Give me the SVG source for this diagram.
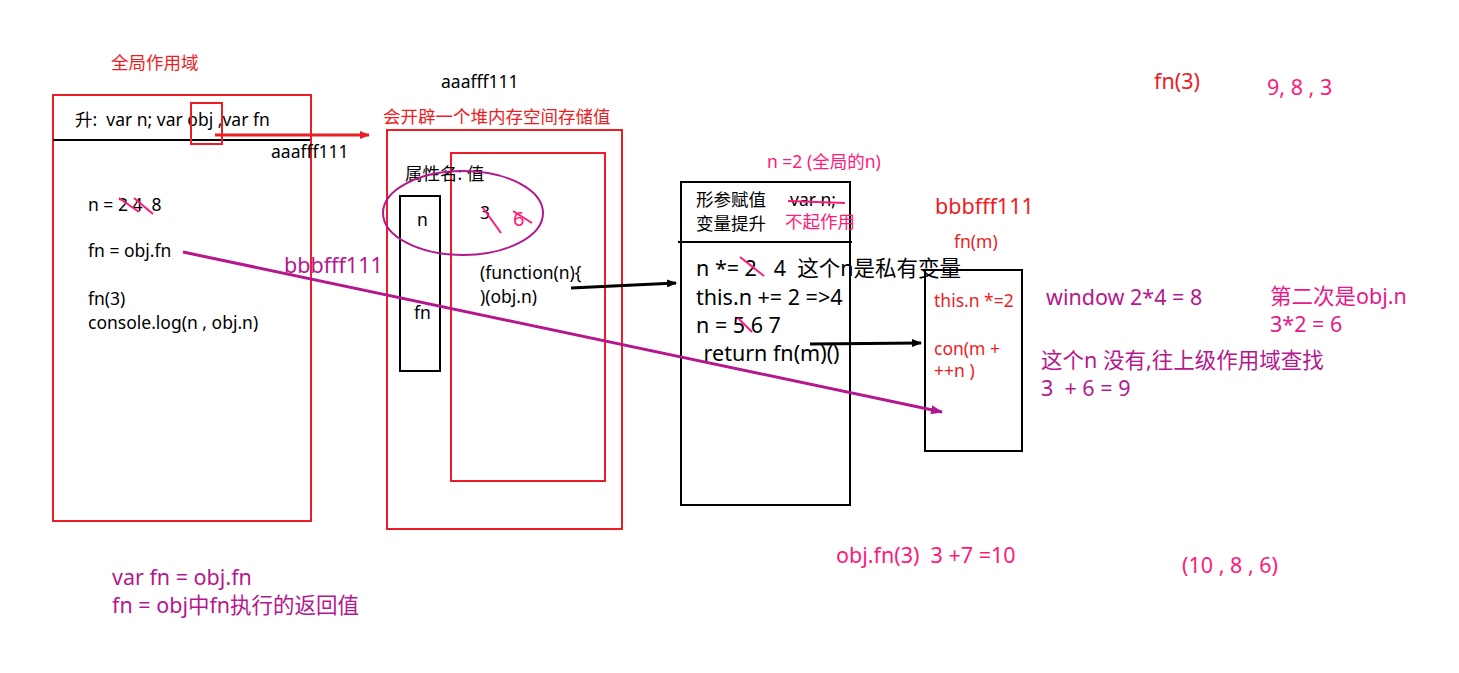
<svg xmlns="http://www.w3.org/2000/svg" width="1459" height="673" viewBox="0 0 1459 673" xml:space="preserve">
<defs>
<marker id="ar" markerWidth="10" markerHeight="8" refX="9" refY="4" orient="auto" markerUnits="userSpaceOnUse"><path d="M0,0 L10,4 L0,8 z" fill="#ee1c24"/></marker>
<marker id="ab" markerWidth="10" markerHeight="8" refX="9" refY="4" orient="auto" markerUnits="userSpaceOnUse"><path d="M0,0 L10,4 L0,8 z" fill="#000"/></marker>
<marker id="ap" markerWidth="12" markerHeight="9" refX="11" refY="4.5" orient="auto" markerUnits="userSpaceOnUse"><path d="M0,0 L12,4.5 L0,9 z" fill="#b5178e"/></marker>
<style>
text{font-family:"Noto Sans","Noto Sans CJK SC",sans-serif;font-size:17.5px;fill:#000;white-space:pre}
.l{font-size:21.5px}
.red{fill:#ee1c24}
.pk{fill:#ff1a7a}
.mg{fill:#e8198b}
.pu{fill:#b5178e}
.rbox{fill:none;stroke:#ee1c24;stroke-width:2}
.bbox{fill:none;stroke:#000;stroke-width:2}
.strike{stroke:#ff1a7a;stroke-width:2;fill:none}
</style>
</defs>
<rect width="1459" height="673" fill="#fff"/>

<text class="red" x="111" y="69">全局作用域</text>

<g id="global">
<rect class="rbox" x="53" y="95" width="258" height="426"/>
<line x1="53" y1="140" x2="310" y2="140" stroke="#000" stroke-width="2"/>
<text x="75" y="126">升:  var n; var obj ,var fn</text>
<rect class="rbox" x="191" y="103" width="31" height="41"/>
<text x="271" y="158">aaafff111</text>
<text x="88" y="211">n = 2 4  8</text>
<line class="strike" x1="119" y1="198" x2="139" y2="212"/>
<line class="strike" x1="134" y1="198" x2="153" y2="214"/>
<text x="88" y="257">fn = obj.fn</text>
<text x="88" y="305">fn(3)</text>
<text x="88" y="329">console.log(n , obj.n)</text>
</g>

<g id="heap">
<text x="441" y="88">aaafff111</text>
<text class="red" x="383" y="123">会开辟一个堆内存空间存储值</text>
<rect class="rbox" x="387" y="130" width="235" height="399"/>
<rect class="rbox" x="451" y="153" width="154" height="328"/>
<rect class="bbox" x="400" y="196" width="40" height="175"/>
<text x="405" y="180">属性名: 值</text>
<text x="417" y="226">n</text>
<text x="414" y="319">fn</text>
<ellipse cx="463" cy="213" rx="80" ry="42" fill="none" stroke="#b5178e" stroke-width="2"/>
<text x="480" y="219">3</text>
<line class="strike" x1="483" y1="208" x2="501" y2="233"/>
<text class="pk" x="513" y="226" style="font-size:20px">6</text>
<line class="strike" x1="513" y1="211" x2="532" y2="223"/>
<text x="480" y="279">(function(n){</text>
<text x="480" y="303">)(obj.n)</text>
</g>

<g id="exec">
<text class="pk" x="767" y="168">n =2 (全局的n)</text>
<rect class="bbox" x="681" y="182" width="169" height="323"/>
<line x1="678" y1="242" x2="852" y2="242" stroke="#000" stroke-width="2"/>
<text x="696" y="206">形参赋值</text>
<text x="696" y="230">变量提升</text>
<text x="790" y="206">var n;</text>
<line class="strike" x1="788" y1="201" x2="845" y2="203"/>
<text class="pk" x="785" y="228">不起作用</text>
<text class="l" x="696" y="276">n *= 2   4  这个n是私有变量</text>
<line class="strike" x1="740" y1="257" x2="764" y2="276"/>
<text class="l" x="696" y="305">this.n += 2 =&gt;4</text>
<text class="l" x="696" y="333">n = 5 6 7</text>
<line class="strike" x1="738" y1="318" x2="752" y2="332"/>
<text class="l" x="698" y="361"> return fn(m)()</text>
</g>

<g id="fnm">
<text class="red l" x="935" y="214">bbbfff111</text>
<text class="red" x="954" y="248">fn(m)</text>
<rect class="bbox" x="925" y="270" width="97" height="181"/>
<text class="red" x="934" y="307">this.n *=2</text>
<text class="red" x="934" y="355">con(m +</text>
<text class="red" x="934" y="377">++n )</text>
</g>

<g id="notes">
<text class="red l" x="1154" y="89">fn(3)</text>
<text class="pk l" x="1267" y="95">9, 8 , 3</text>
<text class="pu l" x="1046" y="305">window 2*4 = 8</text>
<text class="mg l" x="1270" y="304">第二次是obj.n</text>
<text class="mg l" x="1270" y="332">3*2 = 6</text>
<text class="pu l" x="1041" y="368">这个n 没有,往上级作用域查找</text>
<text class="pu l" x="1041" y="396">3  + 6 = 9</text>
<text class="pk l" x="836" y="563">obj.fn(3)  3 +7 =10</text>
<text class="pk l" x="1182" y="573">(10 , 8 , 6)</text>
<text class="pu l" x="112" y="585">var fn = obj.fn</text>
<text class="pu l" x="112" y="613">fn = obj中fn执行的返回值</text>
<text class="pu l" x="284" y="273">bbbfff111</text>
</g>

<g id="connectors">
<line x1="215" y1="135" x2="369" y2="135" stroke="#ee1c24" stroke-width="3" marker-end="url(#ar)"/>
<line x1="183" y1="252" x2="942" y2="412" stroke="#b5178e" stroke-width="3" marker-end="url(#ap)"/>
<line x1="571" y1="288" x2="676" y2="283" stroke="#000" stroke-width="3" marker-end="url(#ab)"/>
<line x1="810" y1="344" x2="921" y2="343" stroke="#000" stroke-width="3" marker-end="url(#ab)"/>
</g>
</svg>
